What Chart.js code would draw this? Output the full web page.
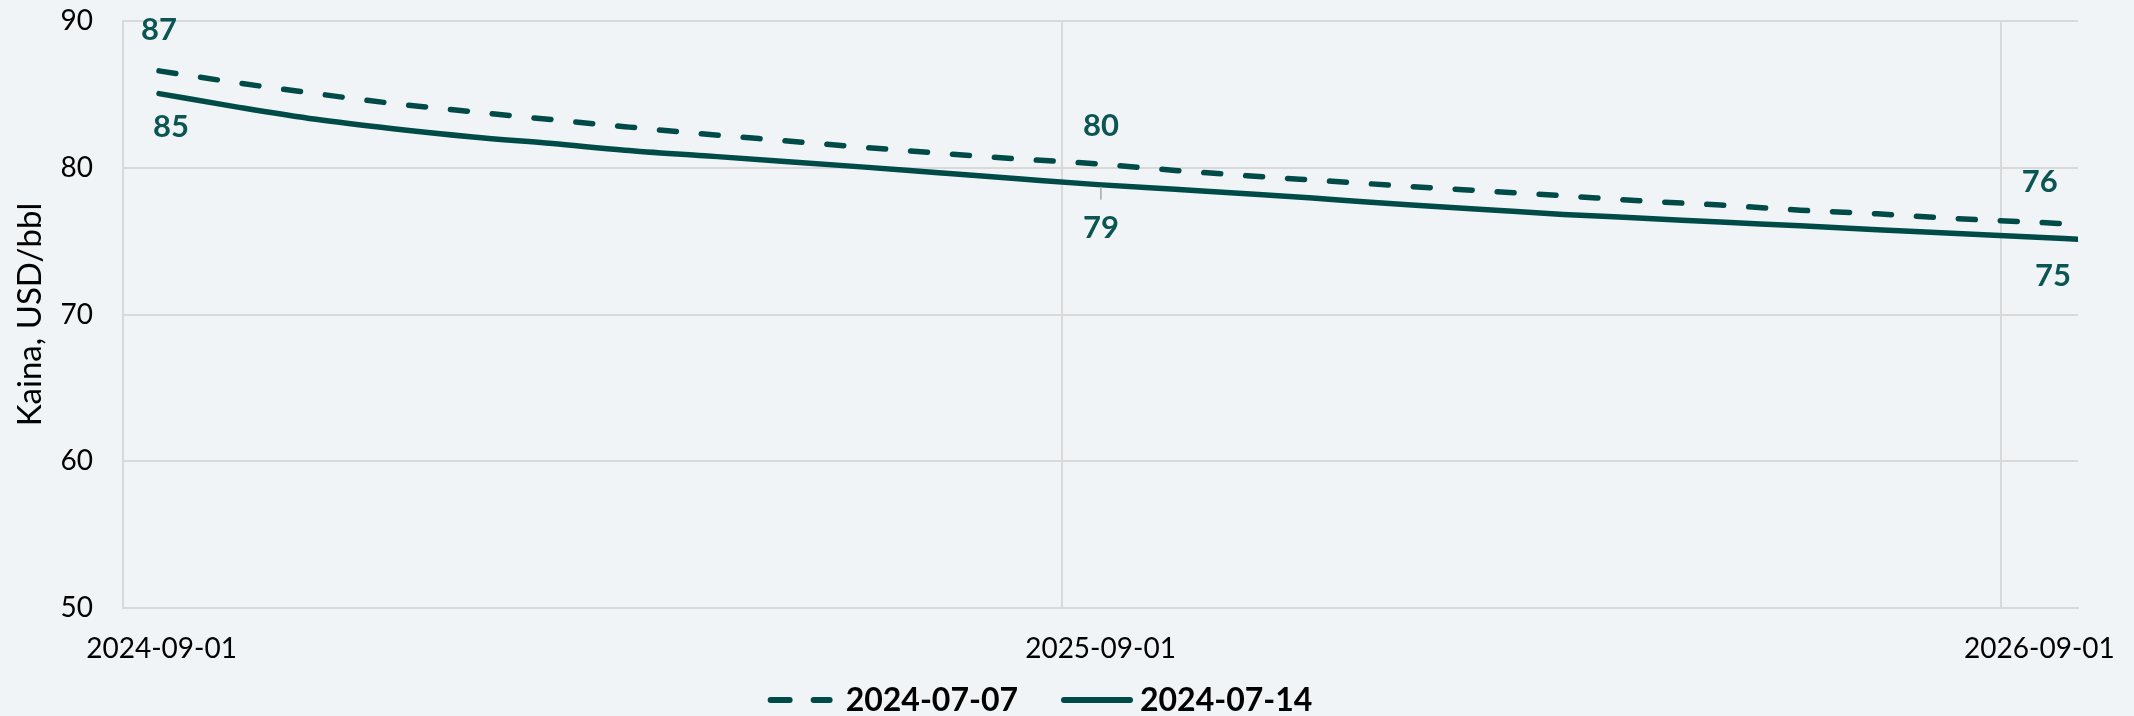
<!DOCTYPE html>
<html><head><meta charset="utf-8">
<script src="https://cdn.jsdelivr.net/npm/chart.js@4.4.1/dist/chart.umd.min.js"></script>
<style>html,body{margin:0;padding:0;background:#f0f4f7;}#wrap{width:2134px;height:716px;}</style>
</head><body><div id="wrap"><canvas id="c" width="2134" height="716"></canvas></div>
<script>
// ---- data ----
const dates = ['2024-09-15','2024-10-15','2024-11-15','2024-12-15','2025-01-15','2025-02-15','2025-03-15','2025-04-15','2025-05-15','2025-06-15','2025-07-15','2025-08-15','2025-09-15','2025-10-15','2025-11-15','2025-12-15','2026-01-15','2026-02-15','2026-03-15','2026-04-15','2026-05-15','2026-06-15','2026-07-15','2026-08-15','2026-09-15','2026-10-01'];
const series0707 = [86.6,85.8,85.05,84.38,83.81,83.27,82.8,82.3,81.86,81.41,81.0,80.6,80.26,79.82,79.42,79.08,78.72,78.39,78.09,77.73,77.46,77.11,76.86,76.53,76.28,76.14];
const series0714 = [85.05,84.15,83.3,82.66,82.1,81.65,81.2,80.82,80.45,80.06,79.66,79.25,78.85,78.53,78.2,77.84,77.46,77.12,76.82,76.56,76.3,76.04,75.78,75.52,75.27,75.12];
const seriesNames = ['2024-07-07','2024-07-14'];
const xTickLabels = ['2024-09-01','2025-09-01','2026-09-01'];
const yTickValues = [50,60,70,80,90];
const labelledPoints = [ // [dataset, index]
  [0,0],[0,12],[0,24],[1,0],[1,12],[1,25]
];

// ---- helpers ----
const DAY = 86400000;
const origin = Date.parse(xTickLabels[0]);
const dayOf = d => (Date.parse(d) - origin) / DAY;
const xs = dates.map(dayOf);
const gridDays = xTickLabels.map(dayOf);
const toPts = arr => arr.map((v,i)=>({x:xs[i], y:v}));

const LINE = '#004b47';
const LABEL = '#0b5553';
const BG = '#f0f4f7';
const GRID = '#d9d9d9';

// label placement styling (pixel offsets)
const labelStyle = {
  '0-0':{dx:0,dy:-41}, '0-12':{dx:3,dy:-38}, '0-24':{dx:3,dy:-40},
  '1-0':{dx:12,dy:33}, '1-12':{dx:3,dy:43,leader:true}, '1-25':{dx:-25,dy:37}
};

const bgPlugin = {
  id:'bg',
  beforeDraw(chart){const c=chart.ctx;c.save();c.fillStyle=BG;c.fillRect(0,0,chart.width,chart.height);c.restore();}
};

const dataLabelPlugin = {
  id:'dl',
  afterDatasetsDraw(chart){
    const c = chart.ctx;
    c.save();
    c.font = 'bold 31px Lato';
    c.fillStyle = LABEL;
    c.textAlign = 'center';
    c.textBaseline = 'middle';
    labelledPoints.forEach(([ds,idx])=>{
      const el = chart.getDatasetMeta(ds).data[idx];
      const v = chart.data.datasets[ds].data[idx].y;
      const st = labelStyle[ds+'-'+idx] || {dx:0,dy:-40};
      if (st.leader){
        c.strokeStyle = '#a6a6a6'; c.lineWidth = 1.5;
        c.beginPath(); c.moveTo(el.x+3, el.y+2); c.lineTo(el.x+3, el.y+15); c.stroke();
      }
      c.fillText(String(Math.round(v)), el.x+st.dx, el.y+st.dy);
    });
    c.restore();
  }
};

const legendPlugin = {
  id:'customLegend',
  afterDraw(chart){
    const c = chart.ctx;
    c.save();
    c.font = 'bold 32px Lato';
    c.textBaseline = 'middle';
    c.fillStyle = '#000';
    const symLen = [65, 72], gap = [13, 7], spacing = 43, y = 700;
    const items = chart.data.datasets.map((d,i)=>({d, i, w:c.measureText(d.label).width}));
    const total = items.reduce((s,it)=>s+symLen[it.i]+gap[it.i]+it.w,0) + spacing*(items.length-1);
    let x = 1040 - total/2;
    items.forEach(it=>{
      const L = symLen[it.i];
      c.strokeStyle = it.d.borderColor;
      c.lineWidth = 6;
      c.lineCap = 'round';
      c.setLineDash(it.d.borderDash && it.d.borderDash.length ? [19,24] : []);
      c.beginPath(); c.moveTo(x+3, y); c.lineTo(x+L-3, y); c.stroke();
      c.setLineDash([]);
      c.fillText(it.d.label, x+L+gap[it.i], y+1);
      x += L + gap[it.i] + it.w + spacing;
    });
    c.restore();
  }
};

Chart.defaults.font.family = 'Lato, "Open Sans", sans-serif';
Chart.defaults.color = '#000';

new Chart(document.getElementById('c'), {
  type:'line',
  data:{
    datasets:[
      {label:seriesNames[0], data:toPts(series0707), borderColor:LINE, borderWidth:5.5, borderDash:[17,25], borderCapStyle:'round', pointRadius:0, cubicInterpolationMode:'monotone'},
      {label:seriesNames[1], data:toPts(series0714), borderColor:LINE, borderWidth:5.5, borderCapStyle:'round', pointRadius:0, cubicInterpolationMode:'monotone'}
    ]
  },
  options:{
    responsive:false, animation:false, devicePixelRatio:1,
    layout:{padding:{top:21,right:56,left:0,bottom:0}},
    plugins:{legend:{display:false}, tooltip:{enabled:false}},
    scales:{
      x:{
        type:'linear', position:'bottom', min:0, max:xs[xs.length-1],
        afterBuildTicks(s){ s.ticks = gridDays.map(v=>({value:v})); },
        grid:{color:GRID, lineWidth:2, drawTicks:false},
        border:{color:GRID, width:2},
        ticks:{font:{size:28}, padding:24, labelOffset:38.6, maxRotation:0, autoSkip:false,
          callback:(v,i)=>xTickLabels[i]},
        afterFit(s){ s.height = 108; s.paddingLeft = 0; s.paddingRight = 0; }
      },
      y:{
        min:yTickValues[0], max:yTickValues[yTickValues.length-1],
        afterBuildTicks(s){ s.ticks = yTickValues.map(v=>({value:v})); },
        grid:{color:GRID, lineWidth:2, drawTicks:false},
        border:{color:GRID, width:2},
        ticks:{font:{size:28}, padding:30},
        title:{display:true, text:'Kaina, USD/bbl', font:{size:33}, padding:{top:11,bottom:0}},
        afterFit(s){ s.width = 123; s.paddingTop = 0; s.paddingBottom = 0; }
      }
    }
  },
  plugins:[bgPlugin, dataLabelPlugin, legendPlugin]
});
</script></body></html>
